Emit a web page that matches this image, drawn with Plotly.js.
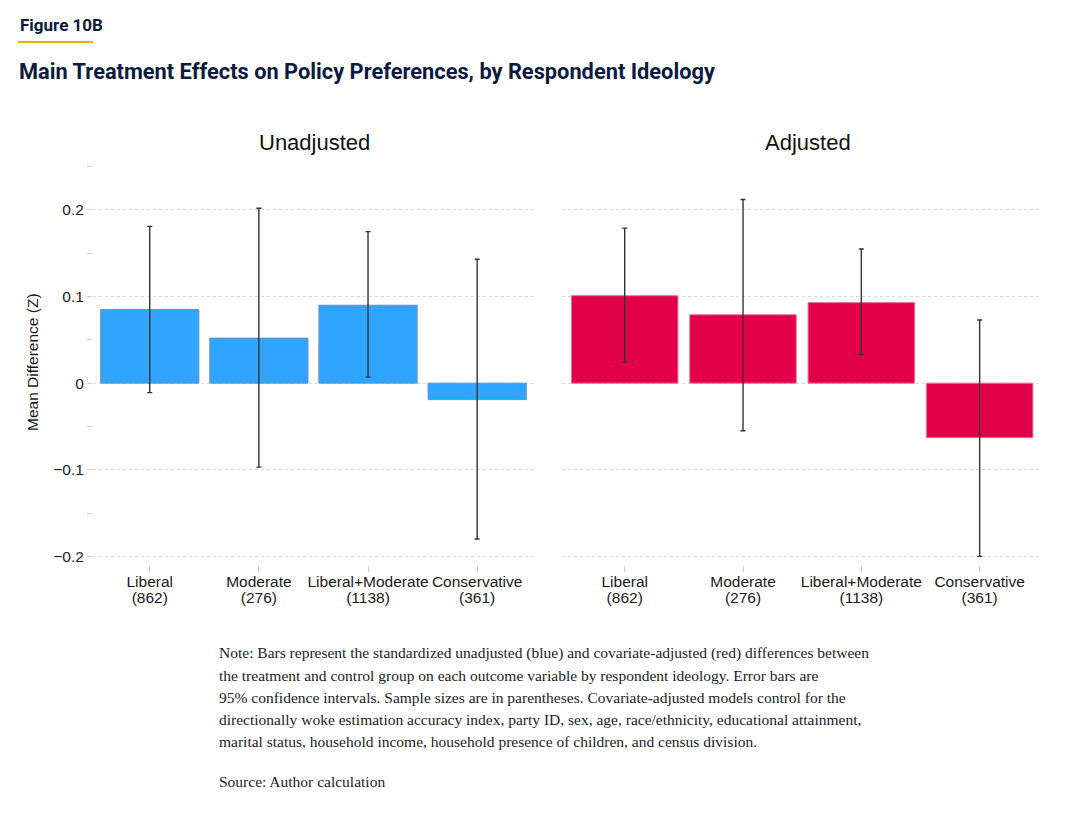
<!DOCTYPE html>
<html>
<head>
<meta charset="utf-8">
<script src="https://cdn.plot.ly/plotly-3.0.1.min.js"></script>
<style>
html,body{margin:0;padding:0;background:#fff;}
#chart{width:1076px;height:814px;}
</style>
</head>
<body>
<div id="chart"></div>
<script>
const categories = ['Liberal', 'Moderate', 'Liberal+Moderate', 'Conservative'];
const sampleSizes = [862, 276, 1138, 361];
const unadjMean = [0.085, 0.052, 0.090, -0.019];
const unadjLow  = [-0.011, -0.097, 0.007, -0.180];
const unadjHigh = [0.181, 0.202, 0.175, 0.143];
const adjMean = [0.101, 0.079, 0.093, -0.063];
const adjLow  = [0.024, -0.055, 0.033, -0.200];
const adjHigh = [0.179, 0.212, 0.155, 0.073];
const yTickVals = [-0.2, -0.1, 0, 0.1, 0.2];
const yTickText = ['\u22120.2', '\u22120.1', '0', '0.1', '0.2'];
const panelTitles = ['Unadjusted', 'Adjusted'];
const figureLabel = 'Figure 10B';
const chartTitle = 'Main Treatment Effects on Policy Preferences, by Respondent Ideology';
const yAxisTitle = 'Mean Difference (Z)';
const noteLines = [
  'Note: Bars represent the standardized unadjusted (blue) and covariate-adjusted (red) differences between',
  'the treatment and control group on each outcome variable by respondent ideology. Error bars are',
  '95% confidence intervals. Sample sizes are in parentheses. Covariate-adjusted models control for the',
  'directionally woke estimation accuracy index, party ID, sex, age, race/ethnicity, educational attainment,',
  'marital status, household income, household presence of children, and census division.'
];
const sourceLine = 'Source: Author calculation';

const W = 1076, H = 814;
const px = x => x / W;
const py = y => 1 - y / H;
const sizeLabels = sampleSizes.map(n => '(' + n + ')');
const idx = categories.map((c, i) => i);

function errTrace(mean, low, high, xa, ya, color, line) {
  return {
    type: 'bar', x: idx, y: mean, xaxis: xa, yaxis: ya, width: 0.9,
    marker: {color: color, line: {color: line, width: 1}},
    error_y: {type: 'data', symmetric: false,
      array: high.map((h, i) => h - mean[i]),
      arrayminus: mean.map((m, i) => m - low[i]),
      color: '#333', thickness: 1.4, width: 2.5},
    hoverinfo: 'skip', showlegend: false
  };
}
function ghost(xa, ya) {
  return {type: 'scatter', mode: 'markers', x: idx, y: idx.map(() => 0), xaxis: xa, yaxis: ya,
    marker: {opacity: 0, size: 1}, hoverinfo: 'skip', showlegend: false};
}

const data = [
  errTrace(unadjMean, unadjLow, unadjHigh, 'x', 'y', '#30a5ff', '#6a8fc8'),
  errTrace(adjMean, adjLow, adjHigh, 'x2', 'y2', '#e3004a', '#f07090'),
  ghost('x3', 'y'),
  ghost('x4', 'y2')
];

const sans = 'Liberation Sans, Arial, Helvetica, sans-serif';
const yDom = [py(565), py(158)];
const tickFont = {family: sans, size: 15.5, color: '#1a1a1a'};
const yCommon = {
  range: [-0.21, 0.26], domain: yDom, zeroline: false,
  tickvals: yTickVals, showgrid: true, gridcolor: '#d9d9d9', griddash: 'dot', gridwidth: 1,
  showline: false, fixedrange: true
};
const xCommon = {
  tickvals: idx, ticktext: categories, showgrid: false, zeroline: false, showline: false,
  ticks: 'outside', ticklen: 6, tickcolor: '#cfcfcf', tickwidth: 1, tickfont: tickFont,
  ticklabelstandoff: -4, fixedrange: true
};
const xSizes = {
  tickvals: idx, ticktext: sizeLabels, showgrid: false, zeroline: false, showline: false,
  ticks: '', tickfont: tickFont, ticklabelstandoff: 21, fixedrange: true
};
const leftDom = [px(93), px(535)], rightDom = [px(562), px(1040)];
const leftRange = [-0.52, 3.53], rightRange = [-0.53, 3.51];

const annotations = [
  {text: panelTitles[0], x: px(314), y: py(142), xref: 'paper', yref: 'paper', showarrow: false,
   xanchor: 'center', yanchor: 'middle', font: {family: sans, size: 22, color: '#111'}},
  {text: panelTitles[1], x: px(808), y: py(142), xref: 'paper', yref: 'paper', showarrow: false,
   xanchor: 'center', yanchor: 'middle', font: {family: sans, size: 22, color: '#111'}},
  {text: yAxisTitle, x: px(33), y: py(362), xref: 'paper', yref: 'paper', showarrow: false, textangle: -90,
   xanchor: 'center', yanchor: 'middle', font: {family: sans, size: 15.5, color: '#1a1a1a'}},
  {text: '<b>' + figureLabel + '</b>', x: px(18), y: py(25), xref: 'paper', yref: 'paper', showarrow: false,
   xanchor: 'left', yanchor: 'middle', font: {family: 'Roboto, sans-serif', size: 17, color: '#0b1a3d'}},
  {text: '<b>' + chartTitle + '</b>', x: px(17), y: py(72), xref: 'paper', yref: 'paper', showarrow: false,
   xanchor: 'left', yanchor: 'middle', font: {family: 'Roboto, sans-serif', size: 21.8, color: '#0b1a3d'}}
];
noteLines.forEach((t, i) => annotations.push({
  text: t, x: px(217), y: py(653 + 22 * i), xref: 'paper', yref: 'paper', showarrow: false,
  xanchor: 'left', yanchor: 'middle', font: {family: 'Liberation Serif, serif', size: 15.5, color: '#222'}
}));
annotations.push({
  text: sourceLine, x: px(217), y: py(781), xref: 'paper', yref: 'paper', showarrow: false,
  xanchor: 'left', yanchor: 'middle', font: {family: 'Liberation Serif, serif', size: 15.5, color: '#222'}
});

const layout = {
  width: W, height: H, margin: {l: 0, r: 0, t: 0, b: 0},
  paper_bgcolor: '#fff', plot_bgcolor: '#fff', showlegend: false,
  bargap: 0.1,
  xaxis: Object.assign({}, xCommon, {domain: leftDom, range: leftRange, anchor: 'y'}),
  xaxis2: Object.assign({}, xCommon, {domain: rightDom, range: rightRange, anchor: 'y2'}),
  xaxis3: Object.assign({}, xSizes, {domain: leftDom, range: leftRange, anchor: 'y', overlaying: 'x', side: 'bottom'}),
  xaxis4: Object.assign({}, xSizes, {domain: rightDom, range: rightRange, anchor: 'y2', overlaying: 'x2', side: 'bottom'}),
  yaxis: Object.assign({}, yCommon, {anchor: 'x', ticktext: yTickText, ticks: 'outside', ticklen: 5,
    tickcolor: '#cfcfcf', tickfont: tickFont, showticklabels: true,
    minor: {dtick: 0.05, tick0: 0.05, ticks: 'outside', ticklen: 5, tickcolor: '#cfcfcf', showgrid: false}}),
  yaxis2: Object.assign({}, yCommon, {anchor: 'x2', ticktext: yTickText, showticklabels: false, ticks: ''}),
  shapes: [
    {type: 'line', xref: 'paper', yref: 'paper', x0: px(18), x1: px(93), y0: py(42), y1: py(42),
     line: {color: '#f0a81c', width: 2}}
  ],
  annotations: annotations
};

Plotly.newPlot('chart', data, layout, {displayModeBar: false, staticPlot: true});
</script>
</body>
</html>
